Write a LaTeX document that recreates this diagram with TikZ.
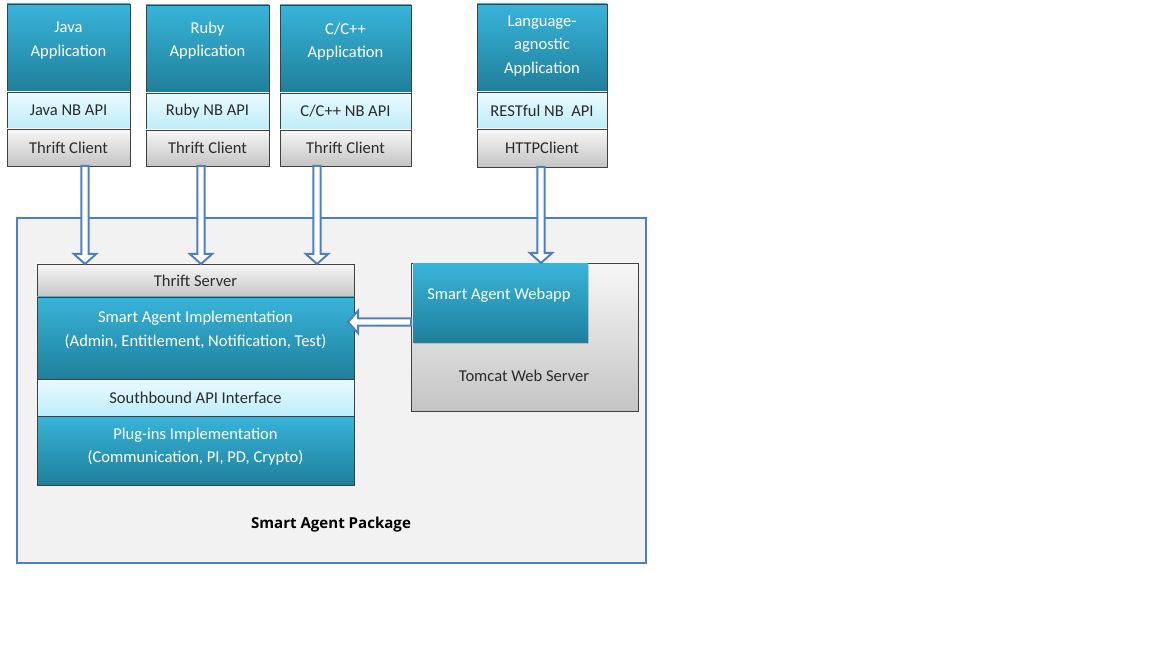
\documentclass[tikz,border=0pt]{standalone}
\usepackage{fontspec}
\setmainfont{Carlito}
\newfontfamily\pkgfont{Open Sans}
\usetikzlibrary{calc,shadows}
\definecolor{tealtop}{HTML}{38B4DA}
\definecolor{tealbot}{HTML}{1F7F9B}
\definecolor{litetop}{HTML}{EAFAFE}
\definecolor{litebot}{HTML}{BDEDF9}
\definecolor{greytop}{HTML}{F7F7F7}
\definecolor{greybot}{HTML}{C4C4C4}
\definecolor{pkgblue}{HTML}{4F7FBF}
\definecolor{pkgfill}{HTML}{F2F2F2}
\definecolor{darktext}{HTML}{2B2B2B}
\tikzset{
  corners/.style n args={4}{anchor=north west, at={(#1,#2)},
    minimum width={(#3-#1)*0.75pt}, minimum height={(#4-#2)*0.75pt},
    inner sep=0pt, outer sep=0pt},
  basebox/.style={draw=black!75, line width=0.6pt, font=\fontsize{12.4}{17}\selectfont},
  tealbox/.style={basebox, top color=tealtop, bottom color=tealbot},
  litebox/.style={basebox, top color=litetop, bottom color=litebot, text=darktext},
  greybox/.style={basebox, top color=greytop, bottom color=greybot, text=darktext},
  shad/.style={drop shadow={shadow xshift=1pt, shadow yshift=-1pt, opacity=0.3}},
  wtxt/.style={text=white, align=center, inner sep=0pt, font=\fontsize{12.4}{17.4}\selectfont},
  dtxt/.style={text=darktext, inner sep=0pt, font=\fontsize{12.4}{17}\selectfont},
  harrow/.style={draw=pkgblue, line width=1.5pt, fill=white, line join=miter},
}
\newcommand\hollowarrow[2]{%
  \coordinate (hs) at (#1);
  \coordinate (he) at (#2);
  \coordinate (hb) at ($(he)!7.5pt!(hs)$);
  \draw[harrow] ($(hs)!2.7pt!90:(he)$) -- ($(hb)!2.7pt!90:(he)$) -- ($(hb)!8.3pt!90:(he)$)
    -- (he) -- ($(hb)!8.3pt!-90:(he)$) -- ($(hb)!2.7pt!-90:(he)$) -- ($(hs)!2.7pt!-90:(he)$) -- cycle;
}
\begin{document}
\begin{tikzpicture}[x=0.75pt, y=-0.75pt]
\useasboundingbox[fill=white] (0,0) rectangle (1152,648);

% package
\node[corners={17}{218}{646}{563}, draw=pkgblue, line width=1.6pt, fill=pkgfill] (pkg) {};
\node[text=black, font=\pkgfont\bfseries\fontsize{11.3}{13}\selectfont] at (331,525) (pkglabel) {Smart Agent Package};

% Java
\node[tealbox, corners={7}{4}{130}{92}] (japp) {};
\node[litebox, corners={7}{92}{130}{129}] (japi) {Java NB API};
\node[greybox, shad, corners={7}{129}{130}{166}] (jcli) {Thrift Client};
\node[wtxt] at (68.5,40.5) (jtxt) {Java\\Application};

% Ruby
\node[tealbox, corners={146}{5}{269}{93}] (rapp) {};
\node[litebox, corners={146}{93}{269}{130}] (rapi) {Ruby NB API};
\node[greybox, shad, corners={146}{130}{269}{166}] (rcli) {Thrift Client};
\node[wtxt] at (207.5,40.5) (rtxt) {Ruby\\Application};

% C/C++
\node[tealbox, corners={280}{5}{411}{93}] (capp) {};
\node[litebox, corners={280}{93}{411}{130}] (capi) {C/C++ NB API};
\node[greybox, shad, corners={280}{130}{411}{166}] (ccli) {Thrift Client};
\node[wtxt] at (345.5,41.5) (ctxt) {C/C++\\Application};

% Language-agnostic
\node[tealbox, corners={477}{4}{607}{92}] (lapp) {};
\node[litebox, corners={477}{92}{607}{129}] (lapi) {RESTful NB~~API};
\node[greybox, shad, corners={477}{129}{607}{167}] (lcli) {HTTPClient};
\node[wtxt] at (542,46) (ltxt) {Language-\\agnostic\\Application};

% stack
\node[greybox, shad, corners={37}{264}{354}{297}] (server) {Thrift Server};
\node[tealbox, shad, corners={37}{297}{354}{379}] (impl) {};
\node[litebox, shad, corners={37}{379}{354}{416}] (sb) {Southbound API Interface};
\node[tealbox, shad, corners={37}{416}{354}{485}] (plug) {};
\node[wtxt] at (195.5,330) (impltxt) {Smart Agent Implementation\\(Admin, Entitlement, Notification, Test)};
\node[wtxt] at (195.5,446.5) (plugtxt) {Plug-ins Implementation\\(Communication, PI, PD, Crypto)};

% tomcat
\node[greybox, shad, corners={411}{263}{638}{411}] (tomcat) {};
\node[tealbox, shad, draw=none, corners={413}{264}{588}{343}] (webapp) {};
\node[wtxt, anchor=west] at (427,295.5) (webtxt) {Smart Agent Webapp};
\node[dtxt] at (524,376) (tomtxt) {Tomcat Web Server};

% arrows
\hollowarrow{$(jcli.south)+(16.5,0)$}{server.north -| hs}
\hollowarrow{$(rcli.south)+(-6.5,0)$}{server.north -| hs}
\hollowarrow{$(ccli.south)+(-28.5,0)$}{server.north -| hs}
\hollowarrow{$(lcli.south)+(-1,0)$}{tomcat.north -| hs}
\hollowarrow{$(tomcat.west)+(0,-15)$}{$(impl.east |- hs)+(-6,0)$}
\end{tikzpicture}
\end{document}
